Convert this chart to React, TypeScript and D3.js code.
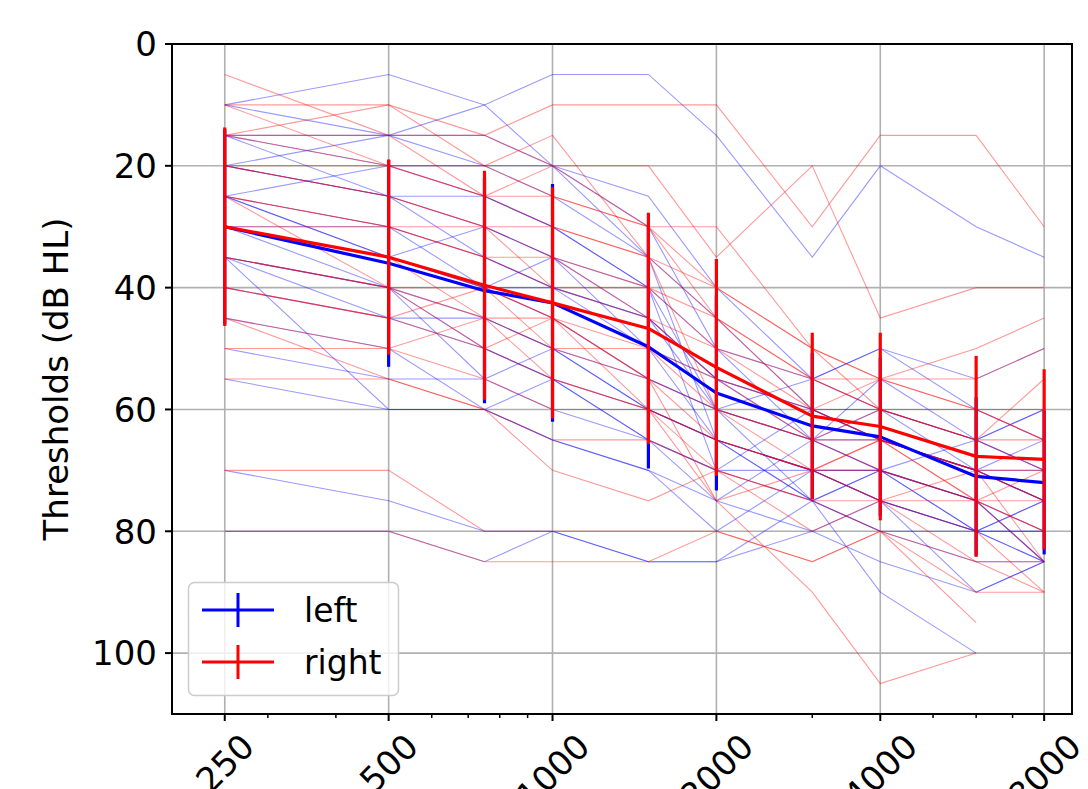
import * as d3 from 'd3';

// FREQUENCIES (Hz) AND AXIS TICKS
const freqs = [250, 500, 750, 1000, 1500, 2000, 3000, 4000, 6000, 8000];
const majorTicks = [250, 500, 1000, 2000, 4000, 8000];
const minorTicks = [300, 400, 600, 700, 800, 900, 3000, 5000, 6000, 7000];
const yTicks = [0, 20, 40, 60, 80, 100];

// MEAN THRESHOLDS (dB HL) AND STANDARD DEVIATION PER EAR
const meanLeft = [30, 36, 40.5, 42.5, 49.7, 57.3, 62.7, 64.5, 71, 72];
const sdLeft = [16, 17, 18.5, 19.5, 20, 16, 12, 13, 13, 11.8];
const meanRight = [30, 35, 39.6, 42.5, 46.7, 53.1, 61.1, 62.8, 67.7, 68.2];
const sdRight = [16.3, 16, 18.8, 19, 19, 17.8, 13.7, 15.4, 16.5, 14.8];

// INDIVIDUAL AUDIOGRAMS, LEFT EAR
const subjectsLeft = [
  [10, 5, 10, 5, 5, 15, 35, 20, 30, 35],
  [15, 15, 20, 20, 25, 40, 55, 50, 60, 65],
  [15, 20, 20, 25, 35, 45, 60, 65, 70, 75],
  [20, 15, 15, 20, 30, 50, 65, 70, 75, 80],
  [25, 30, 35, 40, 45, 55, 60, 60, 65, 70],
  [30, 35, 40, 40, 45, 60, 65, 70, 80, 85],
  [20, 25, 35, 40, 50, 55, 65, 55, 65, 60],
  [35, 40, 45, 50, 55, 60, 65, 65, 70, 75],
  [40, 45, 45, 50, 60, 65, 70, 70, 75, 85],
  [30, 40, 50, 55, 65, 70, 70, 75, 80, 80],
  [25, 35, 40, 45, 55, 60, 55, 50, 55, 50],
  [50, 55, 55, 60, 65, 70, 60, 65, 70, 65],
  [35, 40, 55, 50, 60, 65, 75, 80, 85, 85],
  [45, 50, 60, 55, 65, 75, 65, 60, 65, 70],
  [55, 60, 60, 65, 70, 80, 70, 70, 80, 75],
  [70, 75, 80, 80, 85, 85, 80, 75, 80, 80],
  [80, 80, 85, 80, 85, 85, 75, 70, 75, 85],
  [20, 25, 25, 30, 40, 50, 55, 60, 70, 70],
  [30, 30, 40, 35, 45, 55, 60, 65, 70, 75],
  [25, 35, 30, 35, 40, 60, 75, 90, 100, null],
  [15, 25, 30, 35, 50, 65, 75, 70, 65, 60],
  [35, 45, 50, 55, 60, 65, 70, 75, 90, 85],
  [35, 60, 60, 65, 70, 75, 80, 85, 90, 85],
  [10, 15, 10, 20, 35, 65, 70, 75, 80, 75],
  [25, 20, 25, 30, 40, 70, 75, 80, 80, 85],
];

// INDIVIDUAL AUDIOGRAMS, RIGHT EAR
const subjectsRight = [
  [5, 15, 15, 10, 10, 10, 30, 15, 15, 30],
  [10, 10, 15, 20, 20, 35, 20, 45, 40, 40],
  [15, 15, 25, 20, 30, 45, 55, 60, 65, 70],
  [20, 20, 20, 25, 30, 40, 50, 55, 60, 65],
  [25, 30, 35, 40, 40, 50, 60, 65, 70, 70],
  [30, 35, 40, 45, 50, 55, 65, 65, 70, 75],
  [20, 25, 30, 35, 45, 55, 60, 55, 50, 45],
  [35, 40, 45, 45, 55, 60, 65, 70, 75, 80],
  [40, 45, 50, 55, 60, 65, 70, 75, 80, 90],
  [30, 35, 45, 50, 55, 65, 70, 70, 75, 85],
  [25, 30, 30, 40, 45, 50, 55, 60, 65, 55],
  [45, 50, 55, 60, 60, 65, 70, 65, 75, 70],
  [35, 40, 40, 45, 55, 75, 90, 105, 100, null],
  [50, 50, 45, 55, 60, 70, 75, 80, 95, null],
  [55, 55, 60, 65, 65, 70, 75, 75, 85, 85],
  [70, 70, 80, 80, 80, 80, 85, 80, 85, 90],
  [80, 80, 85, 85, 85, 80, 85, 80, 90, 90],
  [15, 20, 25, 30, 35, 40, 50, 60, 65, 65],
  [30, 30, 35, 35, 40, 45, 55, 55, 60, 60],
  [20, 25, 30, 30, 35, 45, 60, 65, 70, 75],
  [40, 45, 40, 50, 50, 60, 65, 60, 60, 65],
  [10, 20, 25, 25, 30, 30, 50, 55, 55, 50],
  [25, 40, 50, 45, 60, 75, 70, 75, 75, 80],
  [15, 10, 20, 15, 35, 60, 70, 65, 75, 75],
  [45, 55, 60, 70, 75, 70, 80, 75, 70, 85],
];

const FONT = 'DejaVu Sans, sans-serif';

function App() {
  const margin = { top: 44, bottom: 75, left: 172, right: 16 };
  const width = 1088;
  const height = 789;

  const x = d3
    .scaleLog()
    .domain([200, 9000])
    .range([margin.left, width - margin.right]);
  const y = d3
    .scaleLinear()
    .domain([0, 110])
    .range([margin.top, height - margin.bottom]);

  const line = d3
    .line<number | null>()
    .defined((d) => d !== null)
    .x((d, i) => x(freqs[i]))
    .y((d) => y(d as number));

  const x0 = x.range()[0];
  const x1 = x.range()[1];
  const y0 = y.range()[0];
  const y1 = y.range()[1];
  const tickFont = 34;

  const ears = [
    { name: 'left', color: 'blue', mean: meanLeft, sd: sdLeft },
    { name: 'right', color: 'red', mean: meanRight, sd: sdRight },
  ];

  return (
    <svg
      width={width}
      height={height}
      style={{ position: 'absolute', left: 0, top: 0, background: 'white' }}
      fontFamily={FONT}
    >
      <defs>
        <clipPath id='plot-area'>
          <rect x={x0} y={y0} width={x1 - x0} height={y1 - y0} />
        </clipPath>
      </defs>

      {/* GRID */}
      <g stroke='#b0b0b0' strokeWidth={1.6}>
        {majorTicks.map((f) => (
          <line key={'gx' + f} x1={x(f)} x2={x(f)} y1={y0} y2={y1} />
        ))}
        {yTicks.map((v) => (
          <line key={'gy' + v} x1={x0} x2={x1} y1={y(v)} y2={y(v)} />
        ))}
      </g>

      {/* INDIVIDUAL SUBJECTS */}
      <g clipPath='url(#plot-area)' fill='none' strokeWidth={1.1}>
        {subjectsLeft.map((s, i) => (
          <path key={'l' + i} d={line(s) || ''} stroke='blue' strokeOpacity={0.4} />
        ))}
        {subjectsRight.map((s, i) => (
          <path key={'r' + i} d={line(s) || ''} stroke='red' strokeOpacity={0.4} />
        ))}
      </g>

      {/* MEANS WITH ERROR BARS */}
      {ears.map((e) => (
        <g key={e.name} stroke={e.color} strokeWidth={3.2} fill='none'>
          <path d={line(e.mean) || ''} strokeLinejoin='round' />
          {e.mean.map((m, i) => (
            <line
              key={i}
              x1={x(freqs[i])}
              x2={x(freqs[i])}
              y1={y(m - e.sd[i])}
              y2={y(m + e.sd[i])}
            />
          ))}
        </g>
      ))}

      {/* SPINES */}
      <rect
        x={x0}
        y={y0}
        width={x1 - x0}
        height={y1 - y0}
        fill='none'
        stroke='black'
        strokeWidth={2}
      />

      {/* Y AXIS */}
      <g>
        {yTicks.map((v) => (
          <g key={'yt' + v}>
            <line x1={x0 - 7} x2={x0} y1={y(v)} y2={y(v)} stroke='black' strokeWidth={2} />
            <text
              x={x0 - 15}
              y={y(v)}
              dy='0.36em'
              textAnchor='end'
              fontSize={tickFont}
            >
              {v}
            </text>
          </g>
        ))}
        <text
          transform={`translate(68, ${(y0 + y1) / 2}) rotate(-90)`}
          textAnchor='middle'
          fontSize={tickFont}
        >
          Thresholds (dB HL)
        </text>
      </g>

      {/* X AXIS */}
      <g>
        {minorTicks.map((f) => (
          <line key={'mt' + f} x1={x(f)} x2={x(f)} y1={y1} y2={y1 + 4} stroke='black' strokeWidth={1.5} />
        ))}
        {majorTicks.map((f) => {
          const label = String(f);
          const w = label.length * 0.636 * tickFont;
          const cy = y1 + 14 + ((w + tickFont) * 0.707) / 2;
          return (
            <g key={'xt' + f}>
              <line x1={x(f)} x2={x(f)} y1={y1} y2={y1 + 7} stroke='black' strokeWidth={2} />
              <text
                transform={`translate(${x(f)}, ${cy}) rotate(-45)`}
                textAnchor='middle'
                dy='0.36em'
                fontSize={tickFont}
              >
                {label}
              </text>
            </g>
          );
        })}
      </g>

      {/* LEGEND */}
      <g>
        <rect
          x={188.5}
          y={582.5}
          width={210}
          height={113}
          rx={6}
          fill='white'
          fillOpacity={0.8}
          stroke='#cccccc'
          strokeWidth={1.5}
        />
        {ears.map((e, i) => {
          const ly = 610 + i * 52;
          return (
            <g key={'lg' + e.name}>
              <line x1={202} x2={274} y1={ly} y2={ly} stroke={e.color} strokeWidth={3} />
              <line x1={238} x2={238} y1={ly - 17} y2={ly + 17} stroke={e.color} strokeWidth={3} />
              <text x={304} y={ly + 12} fontSize={33}>
                {e.name}
              </text>
            </g>
          );
        })}
      </g>
    </svg>
  );
}

export default App;
